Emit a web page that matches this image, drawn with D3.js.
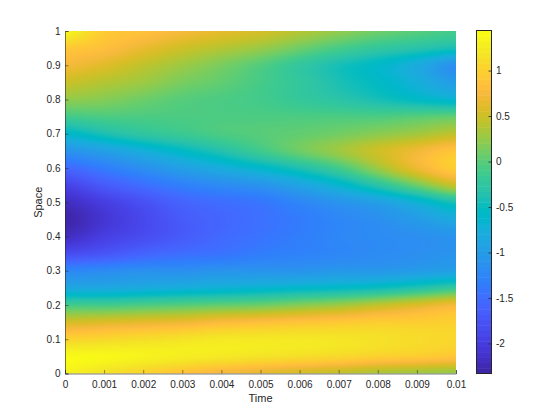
<!DOCTYPE html>
<html><head><meta charset="utf-8">
<script src="https://cdn.jsdelivr.net/npm/d3@7/dist/d3.min.js"></script>
<style>html,body{margin:0;padding:0;background:#fff}svg{display:block}text{font-family:"Liberation Sans",Arimo,Helvetica,sans-serif}</style>
</head><body><svg id="c" width="560" height="420"></svg>
<script>
const timeLabels=[0,0.001,0.002,0.003,0.004,0.005,0.006,0.007,0.008,0.009,0.01];
const spaceLabels=[0,0.1,0.2,0.3,0.4,0.5,0.6,0.7,0.8,0.9,1];
const colorbarTicks=[-2,-1.5,-1,-0.5,0,0.5,1];
const timeGrid=timeLabels;
const spaceGrid=[1,.95,.9,.85,.8,.75,.7,.65,.6,.55,.5,.45,.4,.35,.3,.25,.2,.15,.1,.05,0];
const values=[
[1.38,.98,.88,.76,.65,.55,.4,.25,.1,0,-.1],
[.95,.85,.68,.52,.4,.28,.1,-.08,-.22,-.32,-.42],
[.75,.62,.45,.3,.15,-.02,-.22,-.42,-.58,-.8,-1.15],
[.5,.4,.3,.15,.05,-.08,-.22,-.4,-.55,-.75,-1.0],
[.25,.2,.1,.0,-.05,-.1,-.2,-.3,-.42,-.55,-.66],
[-.1,-.05,-.05,-.05,-.05,-.05,-.05,-.05,-.05,0,.05],
[-.6,-.4,-.25,-.15,-.05,0,.05,.12,.22,.32,.45],
[-1.1,-.95,-.75,-.55,-.35,-.12,.1,.3,.52,.72,.92],
[-1.55,-1.35,-1.15,-.95,-.78,-.6,-.38,-.1,.3,.7,1.0],
[-1.95,-1.7,-1.5,-1.32,-1.2,-1.1,-.9,-.65,-.3,.1,.5],
[-2.2,-2,-1.8,-1.6,-1.5,-1.42,-1.25,-1.1,-.95,-.7,-.4],
[-2.33,-2.1,-1.9,-1.7,-1.58,-1.48,-1.37,-1.25,-1.15,-1.0,-.82],
[-2.2,-2,-1.85,-1.7,-1.55,-1.45,-1.35,-1.25,-1.2,-1.15,-1.1],
[-1.85,-1.75,-1.6,-1.5,-1.45,-1.35,-1.3,-1.25,-1.2,-1.15,-1.1],
[-1.25,-1.2,-1.15,-1.15,-1.1,-1.1,-1.1,-1.05,-1.05,-1,-.95],
[-.85,-.85,-.8,-.75,-.7,-.65,-.6,-.55,-.48,-.35,-.2],
[-.1,-.1,-.05,0,.05,.1,.2,.3,.45,.6,.75],
[.55,.6,.65,.7,.8,.85,.9,.95,1,1,1.02],
[1.05,1.1,1.15,1.2,1.25,1.25,1.25,1.22,1.18,1.13,1.08],
[1.42,1.4,1.35,1.3,1.25,1.2,1.15,1.1,1.03,.98,.92],
[1.35,1.2,1.05,.9,.75,.65,.55,.45,.35,.3,.25]];
const parula=[[.2422,.1504,.6603],[.2504,.165,.7076],[.2578,.1818,.7511],[.2647,.1978,.7952],[.2706,.2147,.8364],[.2751,.2342,.871],[.2783,.2559,.8991],[.2803,.2782,.9221],[.2813,.3006,.9414],[.281,.3228,.9579],[.2795,.3447,.9717],[.276,.3667,.9829],[.2699,.3892,.9906],[.2602,.4123,.9952],[.244,.4358,.9988],[.2206,.4603,.9973],[.1963,.4847,.9892],[.1834,.5074,.9798],[.1786,.5289,.9682],[.1764,.5499,.952],[.1687,.5703,.9359],[.154,.5902,.9218],[.146,.6091,.9079],[.138,.6276,.8973],[.1248,.6459,.8883],[.1113,.6635,.8763],[.0952,.6798,.8598],[.0689,.6948,.8394],[.0297,.7082,.8163],[.0036,.7203,.7917],[.0067,.7312,.766],[.0433,.7411,.7394],[.0964,.75,.712],[.1408,.7584,.6842],[.1717,.767,.6554],[.1938,.7758,.6251],[.2161,.7843,.5923],[.247,.7918,.5567],[.2906,.7973,.5188],[.3406,.8008,.4789],[.3909,.8029,.4354],[.4456,.8024,.3909],[.5044,.7993,.348],[.5616,.7942,.3045],[.6174,.7876,.2612],[.672,.7793,.2227],[.7242,.7698,.191],[.7738,.7598,.1646],[.8203,.7498,.1535],[.8634,.7406,.1596],[.9035,.733,.1774],[.9393,.7288,.21],[.9728,.7298,.2394],[.9956,.7434,.2371],[.997,.7659,.2199],[.9952,.7893,.2028],[.9892,.8136,.1885],[.9786,.8386,.1766],[.9676,.8639,.1643],[.961,.889,.1537],[.9597,.9135,.1423],[.9628,.9373,.1265],[.9691,.9606,.1064],[.9769,.9839,.0805]];
const valueRange=[-2.33,1.435];

const L=65,R=456,T=31,B=373.5,CL=476.5,CR=491.5;
const x=d3.scaleLinear().domain([0,0.01]).range([L,R]);
const y=d3.scaleLinear().domain([0,1]).range([B,T]);
const cy=d3.scaleLinear().domain(valueRange).range([B,T]);
const colorT=d3.scaleLinear().domain(valueRange).range([0,1]).clamp(true);
const parulaStr=parula.map(c=>d3.rgb(c[0]*255,c[1]*255,c[2]*255).formatRgb());
const piecewise=d3.piecewise(d3.interpolateRgb,parulaStr);
const color=v=>d3.rgb(piecewise(colorT(v)));

const cr=(p0,p1,p2,p3,t)=>0.5*((2*p1)+(-p0+p2)*t+(2*p0-5*p1+4*p2-p3)*t*t+(-p0+3*p1-3*p2+p3)*t*t*t);
const clampI=(i,n)=>Math.max(0,Math.min(n-1,i));
function sample(tv,sv){
  const fc=(tv/0.01)*(timeGrid.length-1), fr=(1-sv)*(spaceGrid.length-1);
  const ic=Math.min(timeGrid.length-2,Math.floor(fc)), ir=Math.min(spaceGrid.length-2,Math.floor(fr));
  const tc=fc-ic,tr=fr-ir;
  const rows=[-1,0,1,2].map(dr=>{
    const row=values[clampI(ir+dr,spaceGrid.length)];
    return cr(row[clampI(ic-1,11)],row[ic],row[clampI(ic+1,11)],row[clampI(ic+2,11)],tc);
  });
  return cr(rows[0],rows[1],rows[2],rows[3],tr);
}
const W=R-L,H=Math.round(B-T);
const cv=document.createElement('canvas');cv.width=W;cv.height=H;
const g=cv.getContext('2d');const img=g.createImageData(W,H);
for(let j=0;j<H;j++)for(let i=0;i<W;i++){
  const c=color(sample(x.invert(L+i+.5),y.invert(T+(j+.5)*(B-T)/H)));
  const k=(j*W+i)*4;img.data[k]=c.r;img.data[k+1]=c.g;img.data[k+2]=c.b;img.data[k+3]=255;
}
g.putImageData(img,0,0);
const svg=d3.select('#c');
svg.append('image').attr('x',L).attr('y',T).attr('width',W).attr('height',B-T).attr('preserveAspectRatio','none').attr('href',cv.toDataURL());

const ink='#262626';
const xa=d3.axisBottom(x).tickValues(timeLabels).tickFormat(d=>String(d)).tickSize(-3.5).tickPadding(7.5);
const ya=d3.axisLeft(y).tickValues(spaceLabels).tickFormat(d=>String(d)).tickSize(-3.5).tickPadding(4.5);
const xG=svg.append('g').attr('transform',`translate(0,${B})`).call(xa);
const yG=svg.append('g').attr('transform',`translate(${L},0)`).call(ya);
[xG,yG].forEach(G=>{G.selectAll('text').attr('font-size',10).attr('fill',ink);G.selectAll('line').attr('stroke',ink).attr('stroke-width',.5);G.select('.domain').attr('stroke',ink).attr('stroke-width',.6)});
svg.append('text').attr('x',(L+R)/2).attr('y',402).attr('text-anchor','middle').attr('font-size',11).attr('fill',ink).text('Time');
svg.append('text').attr('transform',`translate(42,${(T+B)/2}) rotate(-90)`).attr('text-anchor','middle').attr('font-size',11).attr('fill',ink).text('Space');

const bar=svg.append('g');
bar.selectAll('rect').data(parulaStr).join('rect')
 .attr('x',CL).attr('width',CR-CL)
 .attr('y',(d,i)=>T+(B-T)*(1-(i+1)/parulaStr.length)).attr('height',(B-T)/parulaStr.length+.5).attr('fill',d=>d);
bar.append('rect').attr('x',CL).attr('y',30.5).attr('width',CR-CL).attr('height',343).attr('fill','none').attr('stroke',ink).attr('stroke-width',1);
const ca=d3.axisRight(cy).tickValues(colorbarTicks).tickFormat(d=>String(d)).tickSize(-3).tickPadding(4.5);
const cG=svg.append('g').attr('transform',`translate(${CR},0)`).call(ca);
cG.select('.domain').remove();
cG.selectAll('text').attr('font-size',10).attr('fill',ink);
cG.selectAll('line').attr('stroke',ink).attr('stroke-width',.8);
</script></body></html>
